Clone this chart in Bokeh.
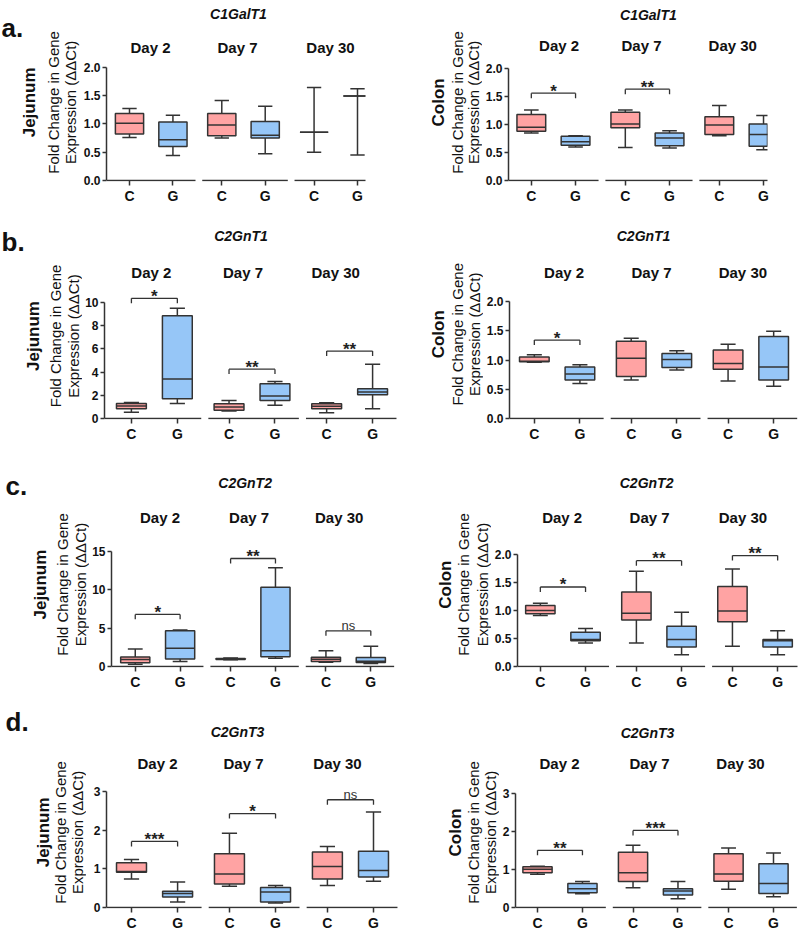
import math
from bokeh.plotting import figure
from bokeh.models import Range1d, FixedTicker, Label, ColumnDataSource
from bokeh.layouts import column, row
from bokeh.embed import file_html
from bokeh.resources import INLINE
from bokeh.core.properties import value

# ---------------- data ----------------
days = ["Day 2", "Day 7", "Day 30"]
groups = ["C", "G"]

# five-number summaries (min, q1, median, q3, max)
# order: Day2 C, Day2 G, Day7 C, Day7 G, Day30 C, Day30 G
c1galt1_jejunum = [(0.76, 0.82, 1.01, 1.18, 1.27), (0.44, 0.60, 0.72, 1.03, 1.15),
                   (0.75, 0.79, 0.98, 1.18, 1.41), (0.47, 0.75, 0.80, 1.04, 1.31),
                   (0.50, 0.85, 0.85, 0.85, 1.64), (0.45, 1.49, 1.49, 1.49, 1.62)]
c1galt1_colon = [(0.85, 0.88, 0.95, 1.18, 1.26), (0.60, 0.63, 0.69, 0.79, 0.80),
                 (0.59, 0.94, 1.01, 1.22, 1.26), (0.58, 0.62, 0.76, 0.85, 0.89),
                 (0.80, 0.82, 0.99, 1.14, 1.34), (0.55, 0.61, 0.82, 1.01, 1.16)]
c2gnt1_jejunum = [(0.55, 0.85, 1.08, 1.30, 1.38), (1.30, 1.70, 3.41, 8.86, 9.52),
                  (0.65, 0.71, 0.99, 1.28, 1.56), (1.14, 1.56, 1.94, 2.99, 3.19),
                  (0.49, 0.85, 1.05, 1.28, 1.37), (0.85, 2.05, 2.28, 2.56, 4.69)]
c2gnt1_colon = [(0.96, 0.97, 0.98, 1.05, 1.09), (0.60, 0.66, 0.76, 0.88, 0.92),
                (0.66, 0.72, 1.03, 1.32, 1.37), (0.83, 0.87, 1.01, 1.11, 1.16),
                (0.64, 0.84, 0.94, 1.17, 1.27), (0.55, 0.66, 0.88, 1.40, 1.49)]
c2gnt2_jejunum = [(0.30, 0.50, 0.90, 1.25, 2.30), (0.65, 0.99, 2.37, 4.66, 4.78),
                  (0.88, 0.93, 1.00, 1.06, 1.12), (1.08, 1.29, 2.07, 10.34, 12.9),
                  (0.55, 0.67, 0.95, 1.22, 2.05), (0.40, 0.52, 0.69, 1.16, 2.65)]
c2gnt2_colon = [(0.91, 0.94, 1.00, 1.09, 1.13), (0.42, 0.46, 0.48, 0.61, 0.68),
                (0.42, 0.83, 0.95, 1.33, 1.70), (0.21, 0.35, 0.48, 0.72, 0.97),
                (0.36, 0.80, 0.99, 1.43, 1.74), (0.21, 0.35, 0.46, 0.48, 0.64)]
c2gnt3_jejunum = [(0.74, 0.91, 0.93, 1.16, 1.24), (0.14, 0.27, 0.36, 0.42, 0.66),
                  (0.55, 0.61, 0.87, 1.39, 1.92), (0.12, 0.14, 0.40, 0.52, 0.57),
                  (0.57, 0.74, 1.06, 1.44, 1.58), (0.68, 0.79, 0.96, 1.46, 2.47)]
c2gnt3_colon = [(0.87, 0.91, 1.00, 1.07, 1.08), (0.36, 0.39, 0.49, 0.63, 0.68),
                (0.52, 0.68, 0.91, 1.45, 1.63), (0.23, 0.33, 0.43, 0.49, 0.68),
                (0.48, 0.69, 0.88, 1.41, 1.56), (0.28, 0.37, 0.63, 1.15, 1.43)]

# significance brackets: (day index, bracket height, label)
c1galt1_jejunum_sig = []
c1galt1_colon_sig = [(0, 1.56, "*"), (1, 1.63, "**")]
c2gnt1_jejunum_sig = [(0, 10.37, "*"), (1, 4.26, "**"), (2, 5.82, "**")]
c2gnt1_colon_sig = [(0, 1.34, "*")]
c2gnt2_jejunum_sig = [(0, 6.8, "*"), (1, 14.1, "**"), (2, 4.66, "ns")]
c2gnt2_colon_sig = [(0, 1.42, "*"), (1, 1.89, "**"), (2, 1.98, "**")]
c2gnt3_jejunum_sig = [(0, 1.71, "***"), (1, 2.43, "*"), (2, 2.79, "ns")]
c2gnt3_colon_sig = [(0, 1.50, "**"), (1, 2.02, "***")]

# y ticks
ticks_2 = [0, 0.5, 1.0, 1.5, 2.0]
labels_2 = ["0.0", "0.5", "1.0", "1.5", "2.0"]
ticks_10 = [0, 2, 4, 6, 8, 10]
labels_10 = ["0", "2", "4", "6", "8", "10"]
ticks_15 = [0, 5, 10, 15]
labels_15 = ["0", "5", "10", "15"]
ticks_3 = [0, 1, 2, 3]
labels_3 = ["0", "1", "2", "3"]

# ---------------- style / layout ----------------
FONT = "Liberation Sans"
TXT = "#111111"
EDGE = "#333333"
C_FILL = "#FFA3A3"
G_FILL = "#96C6F7"
BOX_W = 0.65
CAP_W = 0.33
GROUP_STEP = 2.125
XPOS = [g * GROUP_STEP + k for g in range(len(days)) for k in range(len(groups))]

ROW_TOP = [0, 215, 458, 705]
ROW_BOT = [215, 458, 705, 933]
COL_EDGES = [(0, 400), (400, 800)]

LAY = {
    "a_l": dict(strip=80, axis=106, c1=129, g3=357, fr=365, ytop=67, base=181, title=(238, 14),
                day_x=(150, 237, 330), day_y=47, ylab=(-77, -53, -36)),
    "a_r": dict(strip=482, axis=506, c1=529, g3=763, fr=767, ytop=68, base=180, title=(647, 14),
                day_x=(557, 640, 732), day_y=45, ylab=(-68, -49, -33)),
    "b_l": dict(strip=82, axis=103, c1=130, g3=372, fr=400, ytop=303, base=420, title=(240, 236),
                day_x=(150, 242, 335), day_y=273, ylab=(-70, -48, -30)),
    "b_r": dict(strip=483, axis=507, c1=532, g3=773, fr=797, ytop=301, base=418, title=(642, 235),
                day_x=(562, 650, 742), day_y=272, ylab=(-69, -50, -33)),
    "c_l": dict(strip=89, axis=108, c1=132, g3=370, fr=400, ytop=552, base=668, title=(243, 483),
                day_x=(157, 247, 338), day_y=518, ylab=(-68, -46, -28)),
    "c_r": dict(strip=491, axis=515, c1=538, g3=777, fr=797, ytop=554, base=666, title=(645, 482),
                day_x=(560, 648, 742), day_y=517, ylab=(-70, -52, -33)),
    "d_l": dict(strip=86, axis=106, c1=131, g3=373, fr=400, ytop=792, base=909, title=(237, 732),
                day_x=(157, 243, 337), day_y=764, ylab=(-63, -46, -29)),
    "d_r": dict(strip=499, axis=515, c1=537, g3=773, fr=797, ytop=793, base=908, title=(647, 733),
                day_x=(559, 649, 740), day_y=763, ylab=(-60, -42, -25)),
}
LETTER_POS = [(1, 33), (1, 247), (5, 490), (5, 723)]


def bare(fig):
    fig.axis.visible = False
    fig.xgrid.visible = False
    fig.ygrid.visible = False
    fig.outline_line_color = None
    fig.background_fill_color = "white"
    fig.border_fill_color = "white"


def build_strip(key, r, left, tissue, letter):
    """Narrow text-only figure holding the rotated y-axis title lines (and panel letter)."""
    L = LAY[key]
    top, bot = ROW_TOP[r], ROW_BOT[r]
    x0 = COL_EDGES[0 if left else 1][0]
    W = L["strip"] - x0
    s = figure(width=W, height=bot - top, x_range=Range1d(x0, x0 + W), y_range=Range1d(bot, top),
               output_backend="svg", toolbar_location=None, tools="",
               min_border_left=0, min_border_right=0, min_border_top=0, min_border_bottom=0)
    bare(s)
    ymid = (L["ytop"] + L["base"]) / 2 - 3
    texts = [tissue, "Fold Change in Gene", "Expression (\u0394\u0394Ct)"]
    sizes = ["17px", "15px", "15px"]
    styles = ["bold", "normal", "normal"]
    for t, off, fs, st in zip(texts, L["ylab"], sizes, styles):
        s.text(x=[L["axis"] + off], y=[ymid], text=[t], angle=math.pi / 2,
               text_align="center", text_baseline="middle", text_font=value(FONT),
               text_font_size=value(fs), text_font_style=st, text_color=TXT)
    if letter:
        lx, ly = LETTER_POS[r]
        s.text(x=[lx], y=[ly], text=[letter], text_align="left",
               text_baseline="middle", text_font=value(FONT), text_font_size=value("26px"),
               text_font_style="bold", text_color=TXT)
    return s


def build_panel(key, r, left, summ, sig, yticks, ylabels, gene):
    L = LAY[key]
    top, bot = ROW_TOP[r], ROW_BOT[r]
    fig_left = L["strip"]
    col_right = COL_EDGES[0 if left else 1][1]
    W = col_right - fig_left
    ymax = yticks[-1]
    axis, fr = L["axis"], L["fr"]
    ppx = (L["g3"] - L["c1"]) / XPOS[-1]
    xs = -(L["c1"] - axis) / ppx
    xe = (fr - L["c1"]) / ppx
    base = L["base"]
    ytop = L["ytop"]
    fb = base + 1
    ppy = (base - ytop) / ymax
    ys = -(fb - base) / ppy
    ye = ymax + (ytop - top) / ppy

    def px2x(px):
        return xs + (px - axis) / ppx

    def px2y(py):
        return ys + (fb - py) / ppy

    p = figure(width=W, height=bot - top, x_range=Range1d(xs, xe), y_range=Range1d(ys, ye),
               output_backend="svg", toolbar_location=None, tools="",
               min_border_left=axis - fig_left, min_border_right=col_right - fr,
               min_border_top=0, min_border_bottom=bot - fb)
    p.outline_line_color = None
    p.xgrid.visible = False
    p.ygrid.visible = False
    p.background_fill_color = "white"
    p.border_fill_color = "white"

    # axes
    p.yaxis.ticker = FixedTicker(ticks=yticks)
    p.yaxis.major_label_overrides = {t: l for t, l in zip(yticks, ylabels)}
    p.yaxis.bounds = (0, ymax)
    p.xaxis.ticker = FixedTicker(ticks=XPOS)
    p.xaxis.major_label_overrides = {x: groups[i % 2] for i, x in enumerate(XPOS)}
    p.xaxis.axis_line_color = None
    for ax in (p.xaxis, p.yaxis):
        ax.axis_line_width = 1.5
        ax.major_tick_line_color = EDGE
        ax.major_tick_line_width = 1.5
        ax.minor_tick_line_color = None
        ax.major_label_text_font = FONT
        ax.major_label_text_font_style = "bold"
        ax.major_label_text_color = TXT
    p.yaxis.axis_line_color = EDGE
    p.yaxis.major_tick_out = 4
    p.yaxis.major_tick_in = 0
    p.yaxis.major_label_standoff = 2
    p.yaxis.major_label_text_font_size = "12px"
    p.xaxis.major_tick_out = 4
    p.xaxis.major_tick_in = 1
    p.xaxis.major_label_standoff = 2
    p.xaxis.major_label_text_font_size = "14px"

    # broken baseline segments under each day group
    seg_x0 = [xs if g == 0 else XPOS[2 * g] - 0.45 for g in range(len(days))]
    seg_x1 = [XPOS[2 * g + 1] + 0.52 for g in range(len(days))]
    p.segment(x0=seg_x0, y0=[0] * len(days), x1=seg_x1, y1=[0] * len(days),
              line_color=EDGE, line_width=1.5)

    # boxes (min-to-max whiskers)
    lo = [s[0] for s in summ]
    q1 = [s[1] for s in summ]
    med = [s[2] for s in summ]
    q3 = [s[3] for s in summ]
    hi = [s[4] for s in summ]
    src = ColumnDataSource(dict(
        x=XPOS, lo=lo, q1=q1, med=med, q3=q3, hi=hi,
        bl=[x - BOX_W / 2 for x in XPOS], br=[x + BOX_W / 2 for x in XPOS],
        cl=[x - CAP_W / 2 for x in XPOS], cr=[x + CAP_W / 2 for x in XPOS],
        color=[C_FILL if i % 2 == 0 else G_FILL for i in range(len(XPOS))]))
    p.segment(x0="x", y0="lo", x1="x", y1="q1", source=src, line_color=EDGE, line_width=1.5)
    p.segment(x0="x", y0="q3", x1="x", y1="hi", source=src, line_color=EDGE, line_width=1.5)
    p.vbar(x="x", width=BOX_W, bottom="q1", top="q3", source=src, fill_color="color",
           line_color=EDGE, line_width=1.5)
    p.segment(x0="bl", y0="med", x1="br", y1="med", source=src, line_color=EDGE, line_width=1.5)
    p.segment(x0="cl", y0="hi", x1="cr", y1="hi", source=src, line_color=EDGE, line_width=1.5)
    p.segment(x0="cl", y0="lo", x1="cr", y1="lo", source=src, line_color=EDGE, line_width=1.5)

    # significance brackets
    leg = 5 / ppy
    for d, yb, lab in sig:
        xc, xg = XPOS[2 * d], XPOS[2 * d + 1]
        p.segment(x0=[xc, xc, xg], y0=[yb, yb, yb], x1=[xg, xc, xg], y1=[yb, yb - leg, yb - leg],
                  line_color=EDGE, line_width=1.3)
        if lab == "ns":
            p.add_layout(Label(x=(xc + xg) / 2, y=yb + 5 / ppy, text=lab, text_align="center",
                               text_baseline="alphabetic", text_font=FONT,
                               text_font_size="13px", text_color="#333333"))
        else:
            p.add_layout(Label(x=(xc + xg) / 2, y=yb + 2 / ppy, text=lab, text_align="center",
                               text_baseline="alphabetic", text_font=FONT,
                               text_font_size="17px", text_font_style="bold", text_color="#222222"))

    # gene title and day labels
    tx, ty = L["title"]
    p.add_layout(Label(x=px2x(tx), y=px2y(ty), text=gene, text_align="center",
                       text_baseline="middle", text_font=FONT, text_font_size="14px",
                       text_font_style="bold italic", text_color=TXT))
    for i, dname in enumerate(days):
        p.add_layout(Label(x=px2x(L["day_x"][i]), y=px2y(L["day_y"]), text=dname,
                           text_align="center", text_baseline="middle", text_font=FONT,
                           text_font_size="15px", text_font_style="bold", text_color=TXT))
    return p


specs = [
    ("a_l", 0, True, c1galt1_jejunum, c1galt1_jejunum_sig, ticks_2, labels_2, "Jejunum", "C1GalT1", "a."),
    ("a_r", 0, False, c1galt1_colon, c1galt1_colon_sig, ticks_2, labels_2, "Colon", "C1GalT1", None),
    ("b_l", 1, True, c2gnt1_jejunum, c2gnt1_jejunum_sig, ticks_10, labels_10, "Jejunum", "C2GnT1", "b."),
    ("b_r", 1, False, c2gnt1_colon, c2gnt1_colon_sig, ticks_2, labels_2, "Colon", "C2GnT1", None),
    ("c_l", 2, True, c2gnt2_jejunum, c2gnt2_jejunum_sig, ticks_15, labels_15, "Jejunum", "C2GnT2", "c."),
    ("c_r", 2, False, c2gnt2_colon, c2gnt2_colon_sig, ticks_2, labels_2, "Colon", "C2GnT2", None),
    ("d_l", 3, True, c2gnt3_jejunum, c2gnt3_jejunum_sig, ticks_3, labels_3, "Jejunum", "C2GnT3", "d."),
    ("d_r", 3, False, c2gnt3_colon, c2gnt3_colon_sig, ticks_3, labels_3, "Colon", "C2GnT3", None),
]

rows = []
for i in range(0, len(specs), 2):
    items = []
    for key, r, left, summ, sig, yt, yl, tissue, gene, letter in specs[i:i + 2]:
        items.append(build_strip(key, r, left, tissue, letter))
        items.append(build_panel(key, r, left, summ, sig, yt, yl, gene))
    rows.append(row(*items, spacing=0))

layout = column(*rows, spacing=0)

open("out.html", "w").write(file_html(layout, INLINE))
